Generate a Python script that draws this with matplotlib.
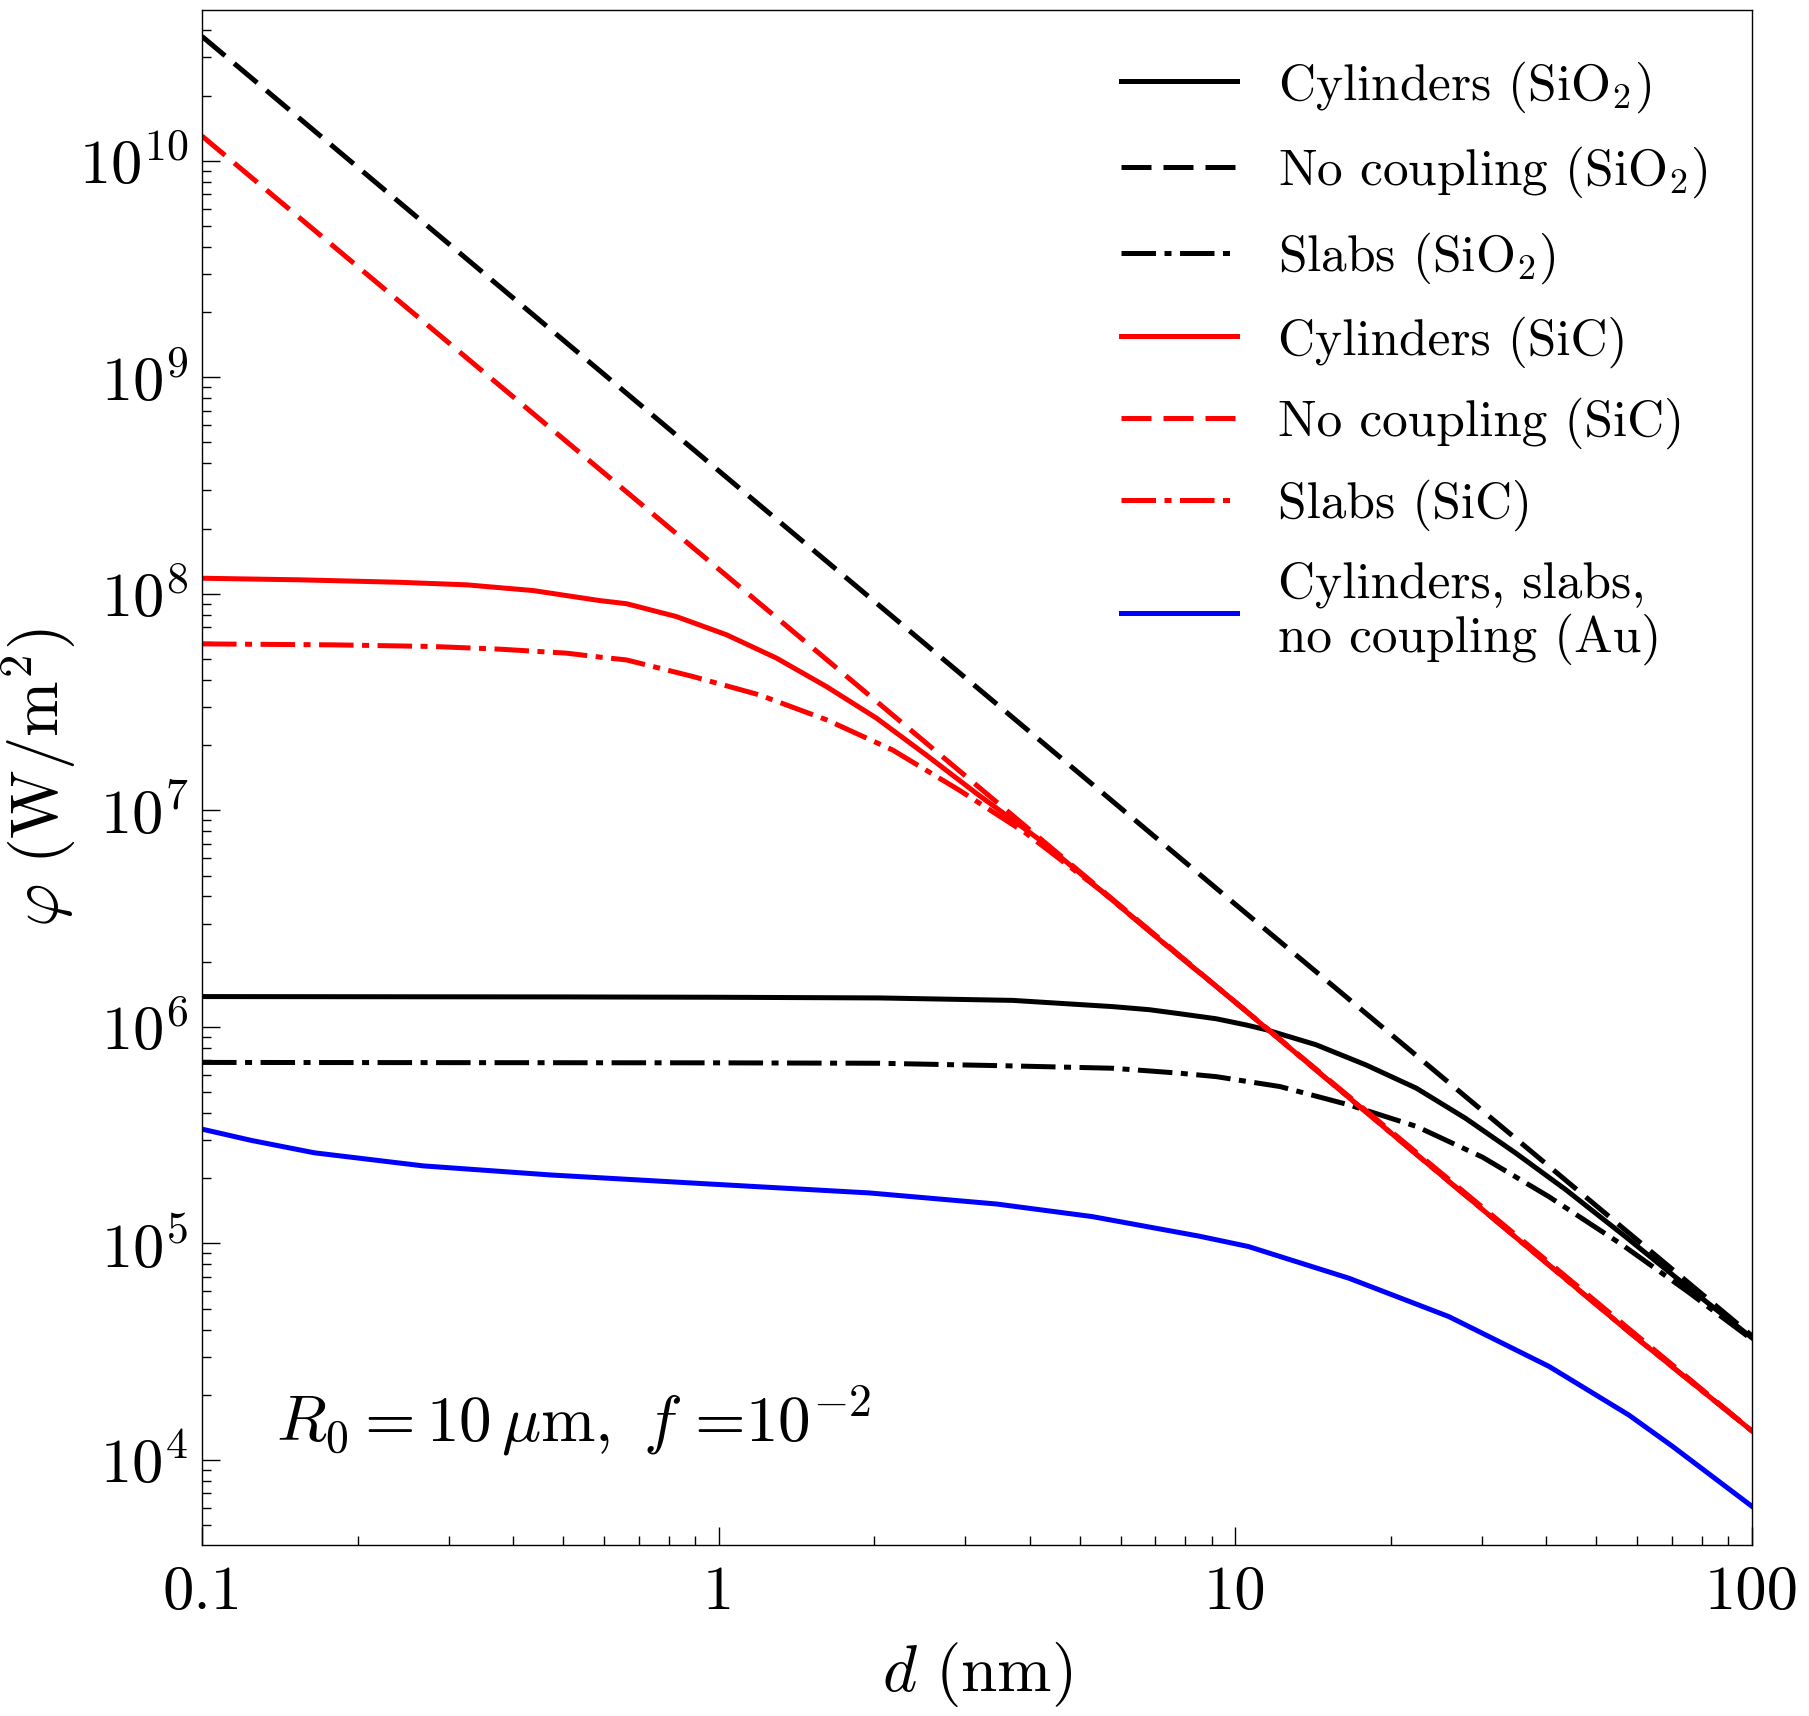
import numpy as np
import matplotlib
matplotlib.use("Agg")
import matplotlib.pyplot as plt
from matplotlib.ticker import FixedLocator, FuncFormatter, LogLocator, NullFormatter

plt.rcParams["mathtext.fontset"] = "cm"
plt.rcParams["font.family"] = "serif"
plt.rcParams["font.serif"] = ["cmr10", "DejaVu Serif"]
plt.rcParams["axes.unicode_minus"] = False
plt.rcParams["axes.formatter.use_mathtext"] = True

# ---- data (d in nm, phi in W/m^2) ----
d_nc_sio2 = [0.1, 1, 10, 100]
phi_nc_sio2 = [3.75e10, 3.7e8, 3.68e6, 3.74e4]

d_cyl_sio2 = [0.1, 0.5, 1, 2.05, 3.71, 5.79, 6.82, 7.8, 9.18, 10.5, 11.47,
              14.32, 17.9, 22.4, 27.9, 34.9, 43.6, 57.0, 75, 100]
phi_cyl_sio2 = [1.38e6, 1.375e6, 1.37e6, 1.36e6, 1.325e6, 1.24e6, 1.20e6,
                1.15e6, 1.09e6, 1.02e6, 9.7e5, 8.27e5, 6.67e5, 5.21e5,
                3.78e5, 2.61e5, 1.77e5, 1.07e5, 6.3e4, 3.66e4]

d_slab_sio2 = [0.1, 1, 2.05, 3.71, 5.79, 7.8, 9.18, 12.2, 16.6, 22.4, 30.1,
               40.5, 56.1, 75, 100]
phi_slab_sio2 = [6.85e5, 6.82e5, 6.79e5, 6.6e5, 6.44e5, 6.11e5, 5.89e5,
                 5.3e5, 4.36e5, 3.47e5, 2.5e5, 1.64e5, 9.84e4, 6.0e4, 3.6e4]

d_nc_sic = [0.1, 1, 10, 100]
phi_nc_sic = [1.30e10, 1.30e8, 1.30e6, 1.36e4]

d_cyl_sic = [0.1, 0.155, 0.2415, 0.325, 0.4375, 0.589, 0.663, 0.828, 1.035,
             1.293, 1.616, 2.018, 2.522, 3.15, 4.18, 5.5, 7.35, 10, 22.4,
             57.8, 100]
phi_cyl_sic = [1.18e8, 1.16e8, 1.13e8, 1.10e8, 1.035e8, 9.3e7, 9.0e7,
               7.85e7, 6.47e7, 5.05e7, 3.73e7, 2.67e7, 1.80e7, 1.20e7,
               7.31e6, 4.25e6, 2.38e6, 1.30e6, 2.58e5, 3.9e4, 1.36e4]

d_slab_sic = [0.1, 0.1795, 0.28, 0.377, 0.507, 0.589, 0.663, 0.891, 1.2,
              1.616, 2.17, 2.92, 3.93, 5.5, 7.35, 10, 22.4, 57.8, 100]
phi_slab_sic = [5.87e7, 5.81e7, 5.71e7, 5.55e7, 5.32e7, 5.10e7, 4.95e7,
                4.15e7, 3.41e7, 2.62e7, 1.90e7, 1.24e7, 7.85e6, 4.25e6,
                2.38e6, 1.30e6, 2.58e5, 3.9e4, 1.36e4]

d_au = [0.1, 0.1245, 0.165, 0.268, 0.473, 0.962, 1.956, 3.45, 5.28, 8.51,
        10.6, 16.6, 25.9, 40.5, 57.8, 70, 100]
phi_au = [3.37e5, 2.99e5, 2.62e5, 2.28e5, 2.07e5, 1.88e5, 1.71e5, 1.52e5,
          1.33e5, 1.08e5, 9.67e4, 6.9e4, 4.59e4, 2.70e4, 1.61e4, 1.16e4, 6.1e3]

labels = [r"Cylinders (SiO$_2$)", r"No coupling (SiO$_2$)", r"Slabs (SiO$_2$)",
          "Cylinders (SiC)", "No coupling (SiC)", "Slabs (SiC)",
          "Cylinders, slabs,\nno coupling (Au)"]

x_ticks = [0.1, 1, 10, 100]
x_ticklabels = ["0.1", "1", "10", "100"]

fig = plt.figure(figsize=(18.09, 17.16), dpi=100)
ax = fig.add_axes([0.1117, 0.0997, 0.8568, 0.8945])

lw = 3.6
dashed = (0, (6.0, 2.4))
dashdot = (0, (6.9, 1.7, 1.4, 1.7))

ax.plot(d_cyl_sio2, phi_cyl_sio2, color="black", lw=lw, label=labels[0])
ax.plot(d_nc_sio2, phi_nc_sio2, color="black", lw=lw, ls=dashed, label=labels[1])
ax.plot(d_slab_sio2, phi_slab_sio2, color="black", lw=lw, ls=dashdot, label=labels[2])
ax.plot(d_cyl_sic, phi_cyl_sic, color="red", lw=lw, label=labels[3])
ax.plot(d_nc_sic, phi_nc_sic, color="red", lw=lw, ls=dashed, label=labels[4])
ax.plot(d_slab_sic, phi_slab_sic, color="red", lw=lw, ls=dashdot, label=labels[5])
ax.plot(d_au, phi_au, color="blue", lw=lw, label=labels[6])

ax.set_xscale("log")
ax.set_yscale("log")
ax.set_xlim(0.1, 100)
ax.set_ylim(4.05e3, 4.97e10)

ax.xaxis.set_major_locator(FixedLocator(x_ticks))
ax.xaxis.set_major_formatter(FuncFormatter(lambda v, p: x_ticklabels[x_ticks.index(v)] if v in x_ticks else ""))
ax.xaxis.set_minor_locator(LogLocator(base=10, subs=np.arange(2, 10)))
ax.xaxis.set_minor_formatter(NullFormatter())
ax.yaxis.set_major_locator(FixedLocator([1e4, 1e5, 1e6, 1e7, 1e8, 1e9, 1e10]))
ax.yaxis.set_major_formatter(FuncFormatter(lambda v, p: r"$10^{%d}$" % round(np.log10(v))))
ax.yaxis.set_minor_locator(LogLocator(base=10, subs=np.arange(2, 10), numticks=20))
ax.yaxis.set_minor_formatter(NullFormatter())

ax.tick_params(which="both", direction="in", top=False, right=False, width=1.0)
ax.tick_params(which="major", length=13, labelsize=45)
ax.tick_params(axis="x", which="major", pad=15)
ax.tick_params(axis="y", which="major", pad=10)
ax.tick_params(which="minor", length=6.5)
for s in ax.spines.values():
    s.set_linewidth(1.0)

ax.set_xlabel(r"$d\ (\mathrm{nm})$", fontsize=47)
ax.set_ylabel(r"$\varphi\ (\mathrm{W/m^2})$", fontsize=48)
ax.xaxis.set_label_coords(0.5, -0.062)
ax.yaxis.set_label_coords(-0.08, 0.5)

ax.text(0.048, 0.068, r"$R_0 = 10\,\mu\mathrm{m},\ f\ $=$10^{-2}$",
        transform=ax.transAxes, fontsize=47, ha="left", va="baseline")

leg = ax.legend(loc="upper left", bbox_to_anchor=(0.593, 0.968), frameon=False,
                fontsize=37, handlelength=2.25, handletextpad=0.8,
                labelspacing=0.585, borderpad=0, borderaxespad=0)
leg.get_texts()[-1].set_linespacing(1.16)

fig.savefig("out.png", dpi=100)
